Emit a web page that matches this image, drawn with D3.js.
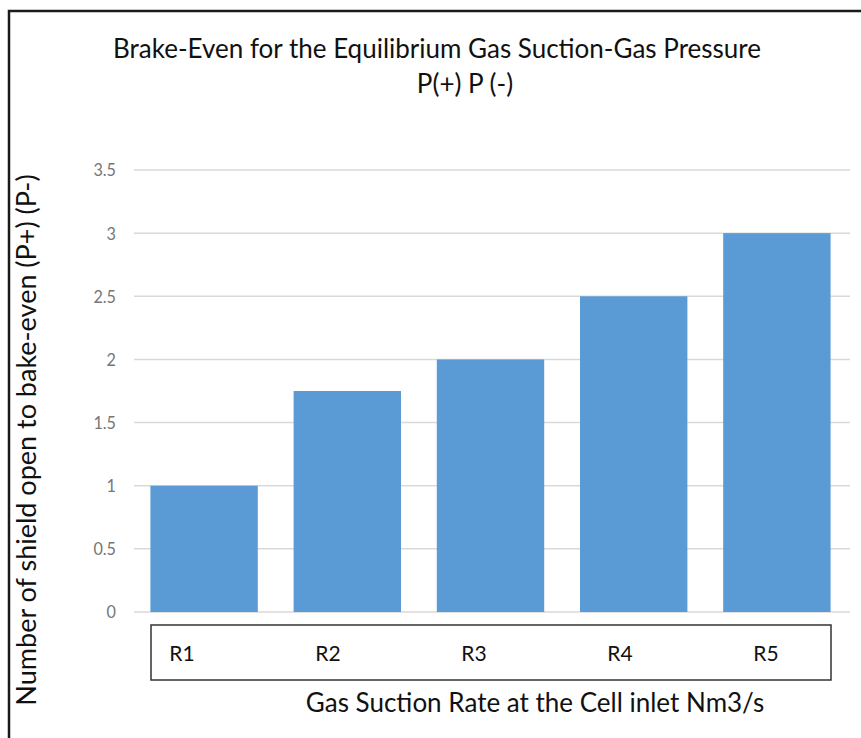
<!DOCTYPE html>
<html>
<head>
<meta charset="utf-8">
<script src="https://cdn.jsdelivr.net/npm/d3@7"></script>
<style>
  html, body { margin: 0; padding: 0; background: #fff; }
  svg { display: block; }
  text { font-family: Lato, "Open Sans", sans-serif; }
</style>
</head>
<body>
<svg id="chart" width="861" height="738"></svg>
<script>
// Data
const categories = ["R1", "R2", "R3", "R4", "R5"];
const values = [1, 1.75, 2, 2.5, 3];
const yTicks = [0, 0.5, 1, 1.5, 2, 2.5, 3, 3.5];
const titleLines = ["Brake-Even for the Equilibrium Gas Suction-Gas Pressure", "P(+) P (-)"];
const xTitle = "Gas Suction Rate at the Cell inlet Nm3/s";
const yTitle = "Number of shield open to bake-even (P+) (P-)";

const svg = d3.select("#chart");

// Outer frame (runs past the right and bottom edges)
svg.append("path")
  .attr("d", "M9,740 L9,11 L865,11")
  .attr("fill", "none")
  .attr("stroke", "#1a1a1a")
  .attr("stroke-width", 2.5);

// Scales
const x = d3.scaleBand()
  .domain(categories)
  .range([132.5, 848.5])
  .paddingInner(0.25)
  .paddingOuter(0.125);

const y = d3.scaleLinear()
  .domain([0, 3.5])
  .range([612, 170]);

// Gridlines
svg.append("g")
  .selectAll("line")
  .data(yTicks)
  .join("line")
  .attr("x1", 134)
  .attr("x2", 850)
  .attr("y1", d => y(d))
  .attr("y2", d => y(d))
  .attr("stroke", "#d9d9d9")
  .attr("stroke-width", 1.5);

// Y tick labels (slightly condensed)
svg.append("g")
  .selectAll("text")
  .data(yTicks)
  .join("text")
  .attr("x", 0)
  .attr("y", 0)
  .attr("dy", "0.36em")
  .attr("text-anchor", "end")
  .attr("fill", "#767676")
  .attr("font-size", 18)
  .attr("transform", d => `translate(116,${y(d)}) scale(0.9,1)`)
  .text(d => d);

// Bars
svg.append("g")
  .selectAll("rect")
  .data(values)
  .join("rect")
  .attr("x", (d, i) => x(categories[i]))
  .attr("width", x.bandwidth())
  .attr("y", d => y(d))
  .attr("height", d => y(0) - y(d))
  .attr("fill", "#5b9bd5");

// Category box under the plot
svg.append("rect")
  .attr("x", 151)
  .attr("y", 625)
  .attr("width", 680)
  .attr("height", 55)
  .attr("fill", "#fff")
  .attr("stroke", "#333")
  .attr("stroke-width", 1.5);

const labelX = d3.scalePoint()
  .domain(categories)
  .range([182, 766]);

svg.append("g")
  .selectAll("text")
  .data(categories)
  .join("text")
  .attr("x", d => labelX(d))
  .attr("y", 661)
  .attr("text-anchor", "middle")
  .attr("font-size", 21)
  .attr("fill", "#111")
  .text(d => d);

// Titles
svg.append("text")
  .attr("x", 437)
  .attr("y", 58)
  .attr("text-anchor", "middle")
  .attr("font-size", 26)
  .attr("fill", "#111")
  .text(titleLines[0]);

svg.append("text")
  .attr("x", 465)
  .attr("y", 93)
  .attr("text-anchor", "middle")
  .attr("font-size", 26)
  .attr("fill", "#111")
  .text(titleLines[1]);

svg.append("text")
  .attr("x", 535)
  .attr("y", 712)
  .attr("text-anchor", "middle")
  .attr("font-size", 26)
  .attr("fill", "#111")
  .text(xTitle);

svg.append("text")
  .attr("transform", "translate(36,440) rotate(-90)")
  .attr("text-anchor", "middle")
  .attr("font-size", 27)
  .attr("fill", "#111")
  .text(yTitle);
</script>
</body>
</html>
